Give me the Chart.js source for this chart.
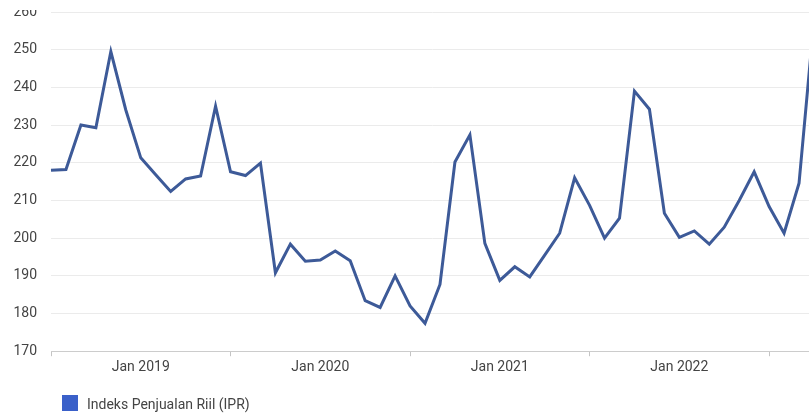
<!DOCTYPE html>
<html>
<head>
<meta charset="utf-8">
<script src="https://cdn.jsdelivr.net/npm/chart.js@4.4.1/dist/chart.umd.min.js"></script>
<style>
  html, body { margin: 0; padding: 0; background: #fff; width: 809px; height: 413px; overflow: hidden; position: relative; }
  #grafik { position: absolute; left: 0; top: 0; }
  #tutup { position: absolute; left: 0; top: 0; width: 809px; height: 10px; background: #fff; }
  #kotak { position: absolute; left: 62px; top: 395px; width: 16px; height: 16px; background: #3a60c9; }
  #teks { position: absolute; left: 87px; top: 396px; line-height: 16px; font: 14px Roboto, sans-serif; color: #444; white-space: nowrap; }
</style>
</head>
<body>
<canvas id="grafik" width="830" height="413"></canvas>
<div id="tutup"></div>
<div id="kotak"></div>
<div id="teks"></div>
<script>
// Data IPR bulanan, Jul 2018 - Okt 2022
const bulan = [
  'Jul 2018', 'Aug 2018', 'Sep 2018', 'Oct 2018', 'Nov 2018', 'Dec 2018',
  'Jan 2019', 'Feb 2019', 'Mar 2019', 'Apr 2019', 'May 2019', 'Jun 2019',
  'Jul 2019', 'Aug 2019', 'Sep 2019', 'Oct 2019', 'Nov 2019', 'Dec 2019',
  'Jan 2020', 'Feb 2020', 'Mar 2020', 'Apr 2020', 'May 2020', 'Jun 2020',
  'Jul 2020', 'Aug 2020', 'Sep 2020', 'Oct 2020', 'Nov 2020', 'Dec 2020',
  'Jan 2021', 'Feb 2021', 'Mar 2021', 'Apr 2021', 'May 2021', 'Jun 2021',
  'Jul 2021', 'Aug 2021', 'Sep 2021', 'Oct 2021', 'Nov 2021', 'Dec 2021',
  'Jan 2022', 'Feb 2022', 'Mar 2022', 'Apr 2022', 'May 2022', 'Jun 2022',
  'Jul 2022', 'Aug 2022', 'Sep 2022', 'Oct 2022'
];
const nilaiIPR = [
  218.0, 218.2, 230.0, 229.3, 249.5, 234.0,
  221.3, 216.8, 212.4, 215.7, 216.5, 235.0,
  217.6, 216.6, 219.9, 190.8, 198.4, 193.9,
  194.2, 196.6, 194.0, 183.4, 181.6, 190.0,
  182.0, 177.4, 187.7, 220.2, 227.4, 198.6,
  188.8, 192.4, 189.7, 195.5, 201.3, 216.0,
  208.7, 200.0, 205.3, 239.0, 234.2, 206.6,
  200.2, 201.9, 198.4, 202.9, 210.0, 217.6,
  208.4, 201.3, 214.6, 258.0
];
const labelSumbu = ['Jan 2019', 'Jan 2020', 'Jan 2021', 'Jan 2022'];
const namaSeri = 'Indeks Penjualan Riil (IPR)';

document.getElementById('teks').textContent = namaSeri;

const huruf = { family: 'Roboto', size: 14 };

new Chart(document.getElementById('grafik'), {
  type: 'line',
  data: {
    labels: bulan,
    datasets: [{
      label: namaSeri,
      data: nilaiIPR,
      borderColor: '#3d5a98',
      backgroundColor: '#3a60c9',
      borderWidth: 3,
      pointRadius: 0,
      tension: 0
    }]
  },
  options: {
    responsive: false,
    animation: false,
    layout: { padding: { top: 12, right: 16, bottom: 34, left: 0 } },
    plugins: { legend: { display: false }, tooltip: { enabled: false } },
    scales: {
      x: {
        grid: {
          drawOnChartArea: false,
          tickLength: 5,
          // tanda kecil tiap Juli
          color: c => (c.index % 12 === 0 ? '#c4c4c4' : 'rgba(0,0,0,0)')
        },
        border: { color: '#cccccc' },
        ticks: {
          autoSkip: false,
          maxRotation: 0,
          padding: 3,
          color: '#444',
          font: huruf,
          callback: (v, i) => (labelSumbu.includes(bulan[i]) ? bulan[i] : '')
        }
      },
      y: {
        min: 170,
        max: 260,
        ticks: { stepSize: 10, padding: 14, color: '#444', font: huruf },
        grid: { color: '#ebebeb', drawTicks: false },
        border: { display: false },
        afterFit: s => { s.width = 51; s.paddingTop = 0; }
      }
    }
  }
});
</script>
</body>
</html>
